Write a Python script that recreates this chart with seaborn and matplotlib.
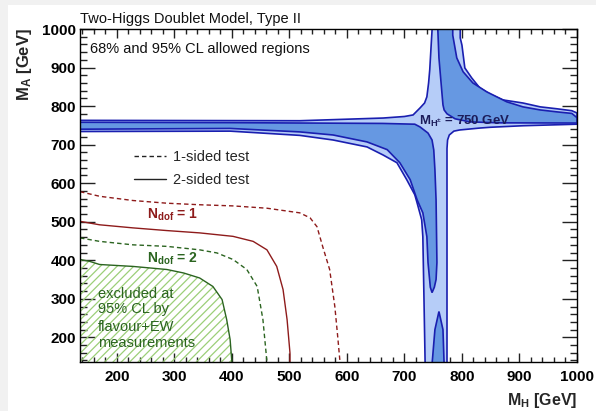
import matplotlib
matplotlib.use("Agg")
import matplotlib.pyplot as plt
import seaborn as sns
from matplotlib.lines import Line2D
from matplotlib.patches import Rectangle

# ---------------- data (GeV) ----------------
# 95% CL allowed region (light blue), closed boundary
cl95_mh = [136, 518, 663, 700, 715, 727, 735, 739, 742, 744, 746, 748, 748,
           797, 797, 800, 805, 817, 831, 850, 871, 906, 936, 965, 991, 1000,
           1000, 906, 849, 831, 796, 786, 778, 775, 774, 774,
           774, 736, 734, 732, 730, 722, 718, 704, 687, 663, 635, 576, 518, 397, 136]
cl95_ma = [763, 762, 769, 773, 777, 795, 808, 824, 860, 894, 946, 997, 1000,
           1000, 977, 958, 899, 873, 847, 830, 816, 808, 798, 793, 788, 782,
           753, 749, 745, 743, 738, 735, 725, 712, 690, 600,
           130, 130, 298, 461, 505, 549, 570, 609, 653, 673, 694, 712, 724, 735, 734]

# 68% CL allowed regions (mid blue)
cl68_low_mh = [136, 397, 662, 718, 727, 741, 748, 751, 753, 755, 756.5, 755, 752, 748,
               745, 741, 739, 732, 722, 710, 692, 670, 635, 576, 518, 397, 136]
cl68_low_ma = [758, 757, 755, 753, 746, 730, 712, 686, 635, 557, 394, 350, 330, 316,
               330, 394, 461, 523, 557, 609, 653, 687, 707, 725, 733, 742, 740]
cl68_up_mh = [758, 760, 765, 767, 769, 774, 788, 814, 866, 1000,
              1000, 991, 965, 936, 906, 878, 843, 819, 802, 791, 784, 784]
cl68_up_ma = [1000, 925, 837, 803, 790, 780, 767, 759, 756.5, 756,
              770, 781, 785, 790, 798, 811, 837, 860, 889, 925, 984, 1000]
cl68_bot_mh = [748, 753, 760, 767, 769]
cl68_bot_ma = [130, 220, 267, 220, 130]

# exclusion contours (flavour + EW)
ndof1_1s_mh = [136, 170, 228, 287, 344, 402, 461, 518, 536, 548, 558, 570, 579, 584, 588]
ndof1_1s_ma = [578, 566, 555, 548, 544, 541, 535, 523, 510, 487, 435, 376, 280, 202, 136]
ndof1_2s_mh = [136, 170, 228, 287, 344, 402, 437, 461, 478, 489, 496, 501, 501]
ndof1_2s_ma = [501, 492, 484, 477, 471, 462, 449, 427, 384, 324, 246, 160, 136]
ndof2_1s_mh = [136, 170, 228, 287, 344, 374, 402, 426, 444, 454, 461]
ndof2_1s_ma = [458, 449, 440, 436, 427, 419, 402, 376, 332, 246, 136]
ndof2_2s_mh = [136, 153, 170, 228, 287, 316, 344, 367, 383, 391, 397, 400]
ndof2_2s_ma = [402, 397, 389, 384, 376, 367, 354, 332, 298, 246, 194, 136]

xticks = [200, 300, 400, 500, 600, 700, 800, 900, 1000]
xtick_labels = ["200", "300", "400", "500", "600", "700", "800", "900", "1000"]
yticks = [200, 300, 400, 500, 600, 700, 800, 900, 1000]
ytick_labels = ["200", "300", "400", "500", "600", "700", "800", "900", "1000"]
minor_ticks = list(range(140, 1001, 20))

excl_lines = ["excluded at", "95% CL by", "flavour+EW", "measurements"]
excl_ma = [313, 274, 228, 186]

# ---------------- style ----------------
sns.set_theme(style="ticks")
plt.rcParams["font.family"] = ["Liberation Sans", "DejaVu Sans"]
plt.rcParams["mathtext.fontset"] = "custom"
plt.rcParams["mathtext.rm"] = "Liberation Sans"
plt.rcParams["mathtext.bf"] = "Liberation Sans:bold"
plt.rcParams["mathtext.it"] = "Liberation Sans:italic"
plt.rcParams["hatch.linewidth"] = 0.9

LIGHT = "#b6cdf8"
MID = "#6698e2"
EDGE = "#1a1fb0"
RED = "#8e1b1b"
GREEN = "#2b6420"
HATCH = "#9ccf78"

fig = plt.figure(figsize=(5.96, 4.11), dpi=100, facecolor="#f1f1f1")
fig.add_artist(Rectangle((8 / 596, 0), 1, 1 - 5 / 411, transform=fig.transFigure,
                         facecolor="white", edgecolor="none", zorder=-10))
ax = fig.add_axes([80 / 596, 49 / 411, 497 / 596, 333 / 411])
ax.set_facecolor("white")

# hatched excluded region
ax.fill(ndof2_2s_mh + [130, 130], ndof2_2s_ma + [130, 402], facecolor="none",
        edgecolor=HATCH, hatch="////", linewidth=0, zorder=1)

dash = (0, (3.2, 2.2))
sns.lineplot(x=ndof1_1s_mh, y=ndof1_1s_ma, ax=ax, sort=False, estimator=None,
             color=RED, lw=1.0, linestyle=dash, legend=False, zorder=2)
sns.lineplot(x=ndof1_2s_mh, y=ndof1_2s_ma, ax=ax, sort=False, estimator=None,
             color=RED, lw=1.0, legend=False, zorder=2)
sns.lineplot(x=ndof2_1s_mh, y=ndof2_1s_ma, ax=ax, sort=False, estimator=None,
             color=GREEN, lw=1.0, linestyle=dash, legend=False, zorder=2)
sns.lineplot(x=ndof2_2s_mh, y=ndof2_2s_ma, ax=ax, sort=False, estimator=None,
             color=GREEN, lw=1.0, legend=False, zorder=2)

# allowed regions
ax.fill(cl95_mh, cl95_ma, facecolor=LIGHT, edgecolor=EDGE, lw=1.2, zorder=3)
for mh, ma in [(cl68_low_mh, cl68_low_ma), (cl68_up_mh, cl68_up_ma), (cl68_bot_mh, cl68_bot_ma)]:
    ax.fill(mh, ma, facecolor=MID, edgecolor=EDGE, lw=1.2, zorder=4)

# axes
ax.set_xlim(136, 1000)
ax.set_ylim(136, 1000)
ax.set_xticks(xticks)
ax.set_xticklabels(xtick_labels)
ax.set_yticks(yticks)
ax.set_yticklabels(ytick_labels)
ax.set_xticks(minor_ticks, minor=True)
ax.set_yticks(minor_ticks, minor=True)
ax.tick_params(which="both", direction="in", top=True, right=True, colors="#222222",
               labelcolor="black", labelsize=11, width=1.0)
ax.tick_params(axis="x", which="major", length=6.5, pad=5.5)
ax.tick_params(axis="x", which="minor", length=3.5)
ax.tick_params(axis="y", which="major", length=10.5, pad=3)
ax.tick_params(axis="y", which="minor", length=5)
for lbl in ax.get_xticklabels() + ax.get_yticklabels():
    lbl.set_fontweight("bold")
for s in ax.spines.values():
    s.set_color("black")
    s.set_linewidth(1.0)
    s.set_zorder(6)
ax.set_xlabel("")
ax.set_ylabel("")

# texts
fig.text(80 / 596, 1 - 12 / 411, "Two-Higgs Doublet Model, Type II", fontsize=10.5,
         ha="left", va="top", color="#111111")
fig.text(34 / 596, 1 - 28 / 411, r"$\mathbf{M_A}$ [GeV]", rotation=90, ha="right", va="top",
         fontsize=12, fontweight="bold")
fig.text(577 / 596, 1 / 411, r"$\mathbf{M_H}$ [GeV]", ha="right", va="bottom",
         fontsize=11.5, fontweight="bold")
ax.text(0.02, 0.94, "68% and 95% CL allowed regions", transform=ax.transAxes,
        fontsize=10.5, ha="left", va="center", color="#111111")
ax.text(725, 759, r"$\mathbf{M_{H^{\pm}}}$ = 750 GeV", fontsize=9.5, fontweight="bold",
        color="#1c1c5a", ha="left", va="center", zorder=7)
ax.text(252, 518, r"$\mathbf{N_{dof}}$ = 1", fontsize=10, fontweight="bold", color=RED,
        ha="left", va="center", zorder=7)
ax.text(252, 404, r"$\mathbf{N_{dof}}$ = 2", fontsize=10, fontweight="bold", color=GREEN,
        ha="left", va="center", zorder=7)
for line, ma in zip(excl_lines, excl_ma):
    ax.text(167, ma, line, fontsize=10.5, color=GREEN, ha="left", va="center", zorder=7)

handles = [Line2D([], [], color="#222222", lw=1.0, linestyle=dash),
           Line2D([], [], color="#222222", lw=1.0)]
ax.legend(handles, ["1-sided test", "2-sided test"], loc="upper left",
          bbox_to_anchor=(0.108, 0.636), frameon=False, handlelength=2.2,
          handletextpad=0.5, labelspacing=0.6, borderpad=0, borderaxespad=0,
          fontsize=10.5)

fig.savefig("out.png", dpi=100, facecolor=fig.get_facecolor())
